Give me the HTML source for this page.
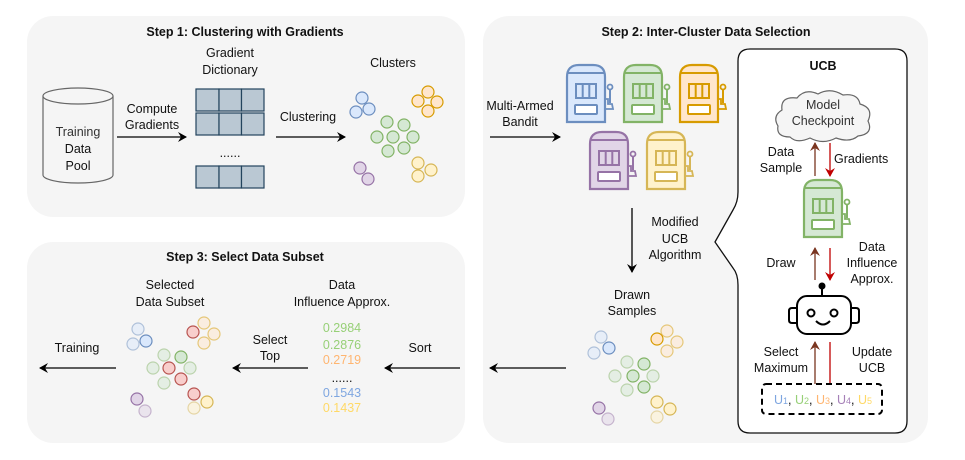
<!DOCTYPE html>
<html><head><meta charset="utf-8"><style>
html,body{margin:0;padding:0;background:#fff}
svg{display:block;font-family:"Liberation Sans",Arial,sans-serif}
text{font-size:12.5px}
.b{font-weight:bold;font-size:12.5px}
</style></head><body>
<svg width="965" height="460" viewBox="0 0 965 460" xmlns="http://www.w3.org/2000/svg">
<defs>
<marker id="ak" markerWidth="10" markerHeight="10" refX="8" refY="5" orient="auto" markerUnits="userSpaceOnUse"><path d="M0,0 L9,5 L0,10 L3,5 Z" fill="#000"/></marker>
<marker id="ar" markerWidth="10" markerHeight="10" refX="8" refY="5" orient="auto" markerUnits="userSpaceOnUse"><path d="M0,0 L9,5 L0,10 L3,5 Z" fill="#c00000"/></marker>
<marker id="ab" markerWidth="10" markerHeight="10" refX="8" refY="5" orient="auto" markerUnits="userSpaceOnUse"><path d="M0,0 L9,5 L0,10 L3,5 Z" fill="#7a3520"/></marker>
<g id="m">
<path d="M0,57 L0,12 Q0,0 12,0 L26,0 Q38,0 38,12 L38,57 Z" stroke-width="2.2"/>
<line x1="0" y1="8" x2="38" y2="8" stroke-width="2"/>
<rect x="9" y="19" width="20" height="14" fill="none" stroke-width="2"/>
<line x1="15.7" y1="19" x2="15.7" y2="33" stroke-width="2"/>
<line x1="22.3" y1="19" x2="22.3" y2="33" stroke-width="2"/>
<rect x="8" y="40" width="22" height="9" fill="#fff" stroke-width="2" rx="1"/>
<line x1="43" y1="24" x2="43" y2="38" stroke-width="2"/>
<circle cx="43" cy="22" r="2.5" fill="none" stroke-width="1.8"/>
<path d="M38,34 L41,34 L41,39 L45,39 L46,44 L38,44" fill="none" stroke-width="1.8"/>
</g>
</defs>
<g fill="#111">
<!-- panels -->
<rect x="27" y="16" width="438" height="201" rx="26" fill="#f5f5f5"/>
<rect x="27" y="242" width="438" height="201" rx="26" fill="#f5f5f5"/>
<rect x="483" y="16" width="445" height="427" rx="26" fill="#f5f5f5"/>

<text class="b" x="245" y="36" text-anchor="middle">Step 1: Clustering with Gradients</text>
<text class="b" x="706" y="36" text-anchor="middle">Step 2: Inter-Cluster Data Selection</text>
<text class="b" x="245" y="261" text-anchor="middle">Step 3: Select Data Subset</text>

<!-- Step 1 -->
<path d="M43,96 L43,175 A35,8 0 0 0 113,175 L113,96" fill="#f5f5f5" stroke="#666" stroke-width="1.2"/>
<ellipse cx="78" cy="96" rx="35" ry="8" fill="#f5f5f5" stroke="#666" stroke-width="1.2"/>
<text x="78" y="136" text-anchor="middle" fill="#333">Training</text>
<text x="78" y="153" text-anchor="middle">Data</text>
<text x="78" y="170" text-anchor="middle">Pool</text>
<text x="152" y="113" text-anchor="middle">Compute</text>
<text x="152" y="129" text-anchor="middle">Gradients</text>
<line x1="117" y1="137" x2="186" y2="137" stroke="#000" stroke-width="1.3" marker-end="url(#ak)"/>
<text x="230" y="57" text-anchor="middle">Gradient</text>
<text x="230" y="74" text-anchor="middle">Dictionary</text>
<g fill="#bac8d3" stroke="#23445d" stroke-width="1.2">
<rect x="196" y="89" width="23" height="22"/><rect x="219" y="89" width="22.5" height="22"/><rect x="241.5" y="89" width="22.5" height="22"/>
<rect x="196" y="113" width="23" height="22"/><rect x="219" y="113" width="22.5" height="22"/><rect x="241.5" y="113" width="22.5" height="22"/>
<rect x="196" y="166" width="23" height="22"/><rect x="219" y="166" width="22.5" height="22"/><rect x="241.5" y="166" width="22.5" height="22"/>
</g>
<text x="230" y="157" text-anchor="middle">......</text>
<text x="308" y="121" text-anchor="middle">Clustering</text>
<line x1="276" y1="137" x2="345" y2="137" stroke="#000" stroke-width="1.3" marker-end="url(#ak)"/>
<text x="393" y="67" text-anchor="middle">Clusters</text>
<g stroke-width="1.2">
<g fill="#dae8fc" stroke="#6c8ebf"><circle cx="362" cy="98" r="6"/><circle cx="356" cy="112" r="6"/><circle cx="369" cy="109" r="6"/></g>
<g fill="#ffe6cc" stroke="#d79b00"><circle cx="428" cy="92" r="6"/><circle cx="418" cy="101" r="6"/><circle cx="437" cy="102" r="6"/><circle cx="428" cy="111" r="6"/></g>
<g fill="#d5e8d4" stroke="#82b366"><circle cx="387" cy="122" r="6"/><circle cx="404" cy="125" r="6"/><circle cx="377" cy="137" r="6"/><circle cx="393" cy="137" r="6"/><circle cx="413" cy="137" r="6"/><circle cx="388" cy="151" r="6"/><circle cx="404" cy="148" r="6"/></g>
<g fill="#e1d5e7" stroke="#9673a6"><circle cx="360" cy="168" r="6"/><circle cx="368" cy="179" r="6"/></g>
<g fill="#fff2cc" stroke="#d6b656"><circle cx="418" cy="163" r="6"/><circle cx="431" cy="170" r="6"/><circle cx="418" cy="176" r="6"/></g>
</g>

<!-- Step 2 -->
<text x="520" y="110" text-anchor="middle">Multi-Armed</text>
<text x="520" y="126" text-anchor="middle">Bandit</text>
<line x1="490" y1="137" x2="560" y2="137" stroke="#000" stroke-width="1.3" marker-end="url(#ak)"/>
<use href="#m" x="567" y="65" fill="#dae8fc" stroke="#6c8ebf"/>
<use href="#m" x="624" y="65" fill="#d5e8d4" stroke="#82b366"/>
<use href="#m" x="680" y="65" fill="#ffe6cc" stroke="#d79b00"/>
<use href="#m" x="590" y="132" fill="#e1d5e7" stroke="#9673a6"/>
<use href="#m" x="647" y="132" fill="#fff2cc" stroke="#d6b656"/>
<line x1="632" y1="208" x2="632" y2="272" stroke="#000" stroke-width="1.3" marker-end="url(#ak)"/>
<text x="675" y="226" text-anchor="middle">Modified</text>
<text x="675" y="243" text-anchor="middle">UCB</text>
<text x="675" y="259" text-anchor="middle">Algorithm</text>
<text x="632" y="299" text-anchor="middle">Drawn</text>
<text x="632" y="315" text-anchor="middle">Samples</text>
<g stroke-width="1.2">
<g fill="#dae8fc" stroke="#6c8ebf"><circle cx="601" cy="337" r="6" opacity=".5"/><circle cx="594" cy="353" r="6" opacity=".5"/><circle cx="609" cy="348" r="6"/></g>
<g fill="#ffe6cc" stroke="#d79b00"><circle cx="657" cy="339" r="6"/><circle cx="667" cy="331" r="6" opacity=".5"/><circle cx="677" cy="342" r="6" opacity=".5"/><circle cx="667" cy="351" r="6" opacity=".5"/></g>
<g fill="#d5e8d4" stroke="#82b366"><circle cx="627" cy="362" r="6" opacity=".5"/><circle cx="644" cy="364" r="6"/><circle cx="615" cy="376" r="6" opacity=".5"/><circle cx="633" cy="376" r="6"/><circle cx="653" cy="376" r="6" opacity=".5"/><circle cx="627" cy="390" r="6" opacity=".5"/><circle cx="644" cy="387" r="6"/></g>
<g fill="#e1d5e7" stroke="#9673a6"><circle cx="599" cy="408" r="6"/><circle cx="608" cy="419" r="6" opacity=".5"/></g>
<g fill="#fff2cc" stroke="#d6b656"><circle cx="657" cy="402" r="6"/><circle cx="670" cy="409" r="6"/><circle cx="657" cy="417" r="6" opacity=".5"/></g>
</g>
<line x1="566" y1="368" x2="490" y2="368" stroke="#000" stroke-width="1.3" marker-end="url(#ak)"/>

<!-- UCB box -->
<path d="M750,49 H895 Q907,49 907,61 V421 Q907,433 895,433 H750 Q738,433 738,421 V285 Q738,274 733,268 L715,242 L733,210 Q738,202 738,192 V61 Q738,49 750,49 Z" fill="#fff" stroke="#111" stroke-width="1.3"/>
<text class="b" x="823" y="70" text-anchor="middle">UCB</text>
<path d="M790,137 Q776,137 778,126 Q772,116 782,110 Q780,96 797,98 Q805,88 818,94 Q830,87 843,95 Q858,93 860,104 Q874,108 868,121 Q874,134 858,136 Q850,143 836,138 Q823,145 810,138 Q797,144 790,137 Z" fill="#f5f5f5" stroke="#666" stroke-width="1.2"/>
<text x="823" y="109" text-anchor="middle" fill="#333">Model</text>
<text x="823" y="125" text-anchor="middle" fill="#333">Checkpoint</text>
<line x1="815" y1="176" x2="815" y2="143" stroke="#7a3520" stroke-width="1.3" marker-end="url(#ab)"/>
<line x1="830" y1="143" x2="830" y2="176" stroke="#c00000" stroke-width="1.3" marker-end="url(#ar)"/>
<text x="781" y="156" text-anchor="middle">Data</text>
<text x="781" y="172" text-anchor="middle">Sample</text>
<text x="834" y="163">Gradients</text>
<use href="#m" x="804" y="180" fill="#d5e8d4" stroke="#82b366"/>
<line x1="815" y1="280" x2="815" y2="248" stroke="#7a3520" stroke-width="1.3" marker-end="url(#ab)"/>
<line x1="830" y1="248" x2="830" y2="280" stroke="#c00000" stroke-width="1.3" marker-end="url(#ar)"/>
<text x="781" y="267" text-anchor="middle">Draw</text>
<text x="872" y="251" text-anchor="middle">Data</text>
<text x="872" y="267" text-anchor="middle">Influence</text>
<text x="872" y="283" text-anchor="middle">Approx.</text>
<!-- robot -->
<circle cx="822" cy="286" r="3.5" fill="#000"/>
<line x1="822" y1="286" x2="822" y2="296" stroke="#000" stroke-width="2"/>
<rect x="797" y="296" width="54" height="38" rx="10" fill="#fff" stroke="#000" stroke-width="2"/>
<path d="M797,308 H792 Q789,308 789,311 V320 Q789,323 792,323 H797" fill="none" stroke="#000" stroke-width="2"/>
<path d="M851,308 H856 Q859,308 859,311 V320 Q859,323 856,323 H851" fill="none" stroke="#000" stroke-width="2"/>
<circle cx="811" cy="313" r="3.5" fill="none" stroke="#000" stroke-width="2"/>
<circle cx="834" cy="313" r="3.5" fill="none" stroke="#000" stroke-width="2"/>
<path d="M816,321 Q823,328 830,321" fill="none" stroke="#000" stroke-width="2"/>
<line x1="815" y1="400" x2="815" y2="342" stroke="#7a3520" stroke-width="1.3" marker-end="url(#ab)"/>
<line x1="830" y1="342" x2="830" y2="400" stroke="#c00000" stroke-width="1.3" marker-end="url(#ar)"/>
<text x="781" y="356" text-anchor="middle">Select</text>
<text x="781" y="372" text-anchor="middle">Maximum</text>
<text x="872" y="356" text-anchor="middle">Update</text>
<text x="872" y="372" text-anchor="middle">UCB</text>
<rect x="762" y="384" width="120" height="30" rx="4" fill="#fff" stroke="#000" stroke-width="2" stroke-dasharray="6,4"/>
<text x="823" y="404" text-anchor="middle"><tspan fill="#7ea6e0">U<tspan font-size="9">1</tspan></tspan>, <tspan fill="#97d077">U<tspan font-size="9">2</tspan></tspan>, <tspan fill="#ffb570">U<tspan font-size="9">3</tspan></tspan>, <tspan fill="#a680b8">U<tspan font-size="9">4</tspan></tspan>, <tspan fill="#ffd966">U<tspan font-size="9">5</tspan></tspan></text>

<!-- Step 3 -->
<text x="170" y="289" text-anchor="middle">Selected</text>
<text x="170" y="306" text-anchor="middle">Data Subset</text>
<text x="342" y="289" text-anchor="middle">Data</text>
<text x="342" y="306" text-anchor="middle">Influence Approx.</text>
<text x="342" y="332" text-anchor="middle" style="fill:#97d077">0.2984</text>
<text x="342" y="349" text-anchor="middle" style="fill:#97d077">0.2876</text>
<text x="342" y="364" text-anchor="middle" style="fill:#ffb570">0.2719</text>
<text x="342" y="382" text-anchor="middle">......</text>
<text x="342" y="397" text-anchor="middle" style="fill:#7ea6e0">0.1543</text>
<text x="342" y="412" text-anchor="middle" style="fill:#ffd966">0.1437</text>
<text x="420" y="352" text-anchor="middle">Sort</text>
<line x1="460" y1="368" x2="385" y2="368" stroke="#000" stroke-width="1.3" marker-end="url(#ak)"/>
<text x="270" y="344" text-anchor="middle">Select</text>
<text x="270" y="360" text-anchor="middle">Top</text>
<line x1="308" y1="368" x2="233" y2="368" stroke="#000" stroke-width="1.3" marker-end="url(#ak)"/>
<text x="77" y="352" text-anchor="middle">Training</text>
<line x1="116" y1="368" x2="40" y2="368" stroke="#000" stroke-width="1.3" marker-end="url(#ak)"/>
<g stroke-width="1.2">
<g fill="#dae8fc" stroke="#6c8ebf"><circle cx="138" cy="329" r="6" opacity=".5"/><circle cx="133" cy="344" r="6" opacity=".5"/><circle cx="146" cy="341" r="6"/></g>
<g fill="#ffe6cc" stroke="#d79b00"><circle cx="204" cy="323" r="6" opacity=".5"/><circle cx="214" cy="334" r="6" opacity=".5"/><circle cx="204" cy="343" r="6" opacity=".5"/></g>
<g fill="#d5e8d4" stroke="#82b366"><circle cx="164" cy="355" r="6" opacity=".5"/><circle cx="181" cy="357" r="6"/><circle cx="153" cy="368" r="6" opacity=".5"/><circle cx="190" cy="368" r="6" opacity=".5"/><circle cx="164" cy="383" r="6" opacity=".5"/></g>
<g fill="#f8cecc" stroke="#b85450"><circle cx="193" cy="332" r="6"/><circle cx="169" cy="368" r="6"/><circle cx="181" cy="379" r="6"/><circle cx="194" cy="394" r="6"/></g>
<g fill="#e1d5e7" stroke="#9673a6"><circle cx="137" cy="399" r="6"/><circle cx="145" cy="411" r="6" opacity=".5"/></g>
<g fill="#fff2cc" stroke="#d6b656"><circle cx="207" cy="402" r="6"/><circle cx="194" cy="408" r="6" opacity=".5"/></g>
</g>
</g>
</svg>
</body></html>
